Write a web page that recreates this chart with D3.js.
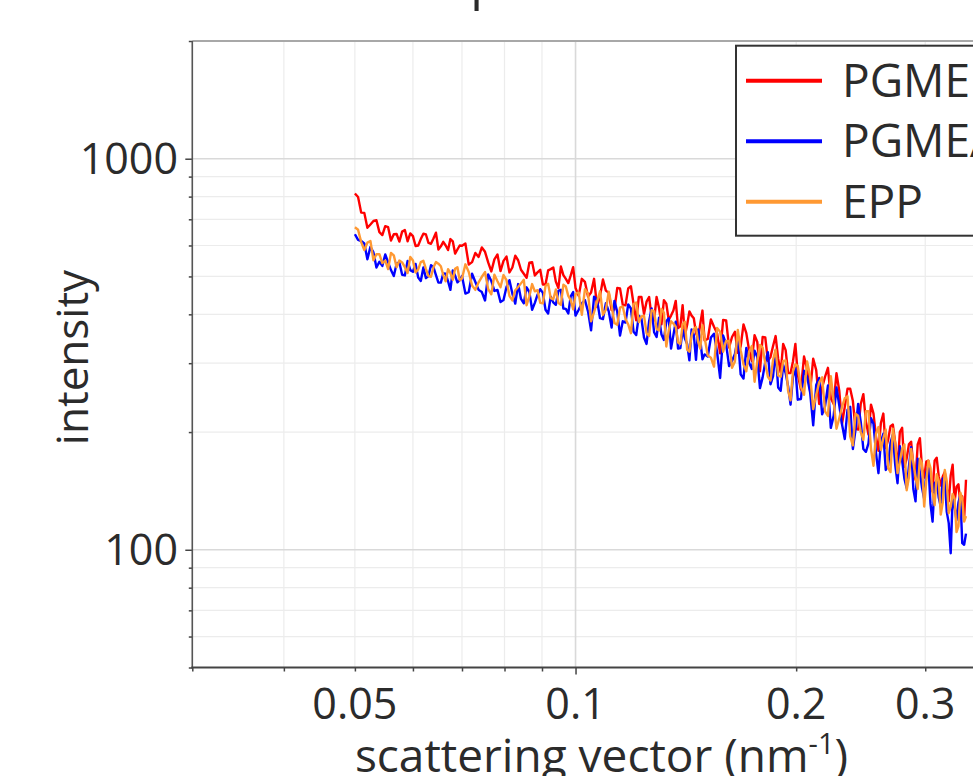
<!DOCTYPE html>
<html>
<head>
<meta charset="utf-8">
<script src="https://cdn.jsdelivr.net/npm/d3@7"></script>
<style>
  body { margin: 0; background: #fff; }
  svg { display: block; font-family: "Open Sans", "Noto Sans", sans-serif; }
</style>
</head>
<body>
<svg id="chart" width="973" height="776"></svg>
<script>
// vecteur de diffusion (nm^-1)
const q = [0.050,0.0505,0.051,0.0515,0.052,0.0525,0.053,0.0535,0.054,0.0545,0.055,0.0555,0.056,0.0565,0.057,0.0575,0.058,0.0585,0.059,0.0595,
  0.060,0.0605,0.061,0.0615,0.062,0.0625,0.063,0.0635,0.064,0.0645,0.065,0.0655,0.066,0.0665,0.067,0.0675,0.068,0.0685,0.069,0.0695,0.070,
  0.07075,0.0715,0.07225,0.073,0.07375,0.0745,0.07525,0.076,0.07675,0.0775,0.07825,0.079,0.07975,0.0805,0.08125,0.082,0.08275,0.0835,0.08425,0.085,
  0.08575,0.0865,0.08725,0.088,0.08875,0.0895,0.09025,0.091,0.09175,0.0925,0.09325,0.094,0.09475,0.0955,0.09625,0.097,0.09775,0.0985,0.09925,0.100,
  0.101,0.102,0.103,0.104,0.105,0.106,0.107,0.108,0.109,0.110,0.111,0.112,0.113,0.114,0.115,0.116,0.117,0.118,0.119,0.120,
  0.121,0.122,0.123,0.124,0.125,0.126,0.127,0.128,0.129,0.130,0.131,0.132,0.133,0.134,0.135,0.136,0.137,0.138,0.139,0.140,
  0.141,0.142,0.143,0.144,0.145,0.146,0.147,0.148,0.149,0.150,
  0.1515,0.153,0.1545,0.156,0.1575,0.159,0.1605,0.162,0.1635,0.165,0.1665,0.168,0.1695,0.171,0.1725,0.174,0.1755,0.177,0.1785,0.180,
  0.1815,0.183,0.1845,0.186,0.1875,0.189,0.1905,0.192,0.1935,0.195,0.1965,0.198,0.1995,0.201,
  0.203,0.205,0.207,0.209,0.211,0.213,0.215,0.217,0.219,0.221,0.223,0.225,0.227,0.229,0.231,0.233,0.235,0.237,0.239,0.241,
  0.243,0.245,0.247,0.249,0.251,0.253,0.255,0.257,0.259,0.261,0.263,0.265,0.267,0.269,0.271,0.273,0.275,0.277,0.279,0.281,
  0.283,0.285,0.287,0.289,0.291,0.293,0.295,0.297,0.299,0.301,0.303,0.305,0.307,0.309,0.311,0.313,0.315,0.317,0.319,0.321,
  0.323,0.325,0.327,0.329,0.331,0.333,0.335,0.337,0.339,0.341];

const pgme = [815,798,728,727,666,679,693,696,649,638,672,668,618,641,642,614,651,657,615,644,634,598,600,623,643,640,609,606,625,647,586,597,613,600,584,623,615,572,586,600,599,
  607,536,544,574,561,593,578,543,515,553,569,516,548,562,512,527,565,550,520,508,496,542,544,503,512,520,477,477,518,522,527,485,467,530,504,493,481,503,528,467,
  446,493,484,444,455,493,418,446,491,460,454,410,412,467,466,423,422,466,472,425,386,443,443,401,431,443,394,386,443,415,377,435,426,387,397,409,433,369,373,422,353,376,407,397,391,358,348,379,409,343,
  346,388,372,358,318,387,386,329,350,361,319,331,377,358,324,304,354,340,286,350,349,304,311,332,352,308,284,336,324,283,283,303,336,281,
  257,312,290,255,308,288,236,260,277,292,244,236,283,255,210,232,258,258,240,204,203,236,250,213,197,235,223,195,179,211,
  223,182,191,207,209,188,160,200,205,163,171,186,189,164,151,186,193,162,153,168,169,145,141,169,172,154,146,154,158,144,
  133,155,165,133,145,147,131,137,120,151];

const pgmea = [641,620,616,607,553,595,576,527,545,532,569,543,519,501,539,543,505,503,548,519,514,538,497,487,527,495,501,534,528,504,482,482,509,508,486,462,518,502,483,489,501,
  452,456,508,484,462,456,434,506,487,459,462,430,435,470,489,452,426,478,438,427,469,456,411,428,449,464,454,411,402,444,429,423,459,462,414,413,402,445,456,397,
  411,427,435,407,364,444,435,391,389,427,407,370,433,406,353,384,381,424,414,361,354,397,390,349,336,384,414,360,350,392,355,344,384,391,327,354,383,327,328,365,347,336,305,366,355,306,366,343,307,316,
  312,349,357,320,275,353,335,295,304,317,349,281,274,328,301,290,323,311,259,276,302,320,265,278,323,260,255,297,283,262,235,277,292,242,
  243,287,277,252,208,264,275,222,233,263,205,220,260,234,209,192,228,232,181,203,236,212,181,178,187,217,210,177,157,189,
  198,160,164,188,197,165,148,184,169,152,144,163,183,143,133,171,158,144,135,157,164,131,118,148,150,136,129,152,153,125,
  117,98,137,129,119,132,138,104,103,110];

const epp = [668,658,612,584,610,616,550,570,570,541,549,522,574,566,528,549,543,528,510,561,549,512,521,544,548,523,501,499,528,544,539,531,504,486,522,510,490,523,528,489,494,
  537,513,474,462,483,499,513,464,450,505,486,469,504,489,446,434,461,470,480,490,422,445,478,458,461,428,427,473,479,440,437,463,428,423,476,471,446,435,412,451,
  455,399,464,452,384,405,431,458,399,411,457,421,380,376,416,419,390,377,358,425,429,382,395,397,358,352,410,407,367,364,413,404,331,363,384,379,372,339,336,377,383,325,321,353,367,371,340,327,375,349,
  314,310,294,369,361,321,342,342,292,303,365,324,298,286,321,332,269,303,334,329,300,277,271,306,325,279,277,304,305,255,241,286,298,295,
  261,249,303,278,229,249,268,276,226,220,278,240,204,217,232,244,247,195,185,223,220,200,191,226,226,181,164,198,206,180,
  193,203,162,158,204,187,157,168,181,186,142,153,181,167,154,143,171,166,129,150,169,162,140,130,156,150,123,132,160,150,
  124,129,139,135,111,115,140,135,118,122];

const seriesNames = ["PGME", "PGMEA", "EPP"];
const seriesColors = ["#ff0000", "#0000ff", "#ff9933"];

const xTickLabels = [0.05, 0.1, 0.2, 0.3];
const xMajor = [0.1];
const xMinor = [0.03, 0.04, 0.05, 0.06, 0.07, 0.08, 0.09, 0.2, 0.3, 0.4];
const yTickLabels = [100, 1000];
const yMajor = [100, 1000];
const yMinor = [50, 60, 70, 80, 90, 200, 300, 400, 500, 600, 700, 800, 900, 2000];

const svg = d3.select("#chart");
const plotLeft = 192.3, plotRight = 1016.8, plotTop = 41, plotBottom = 667.5;

const x = d3.scaleLog().domain([0.03, 0.4]).range([plotLeft, plotRight]);
const y = d3.scaleLog().domain([50, 2000]).range([plotBottom, plotTop]);

svg.append("rect").attr("width", 973).attr("height", 776).attr("fill", "#fff");

// titre (presque entièrement hors cadre)
svg.append("text")
  .attr("x", 318).attr("y", -1)
  .attr("font-size", 50).attr("fill", "#2b2b2b")
  .text("SAXS spectra");

// grille
const grid = svg.append("g");
grid.selectAll(".vmin").data(xMinor).enter().append("line")
  .attr("x1", d => x(d)).attr("x2", d => x(d)).attr("y1", plotTop).attr("y2", plotBottom)
  .attr("stroke", "#ececec").attr("stroke-width", 1.2);
grid.selectAll(".hmin").data(yMinor).enter().append("line")
  .attr("x1", plotLeft).attr("x2", plotRight).attr("y1", d => y(d)).attr("y2", d => y(d))
  .attr("stroke", "#ececec").attr("stroke-width", 1.2);
grid.selectAll(".vmaj").data(xMajor).enter().append("line")
  .attr("x1", d => x(d)).attr("x2", d => x(d)).attr("y1", plotTop).attr("y2", plotBottom)
  .attr("stroke", "#d9d9d9").attr("stroke-width", 1.6);
grid.selectAll(".hmaj").data(yMajor).enter().append("line")
  .attr("x1", plotLeft).attr("x2", plotRight).attr("y1", d => y(d)).attr("y2", d => y(d))
  .attr("stroke", "#d9d9d9").attr("stroke-width", 1.6);

// cadre du haut
svg.append("line").attr("x1", plotLeft).attr("x2", plotRight).attr("y1", plotTop).attr("y2", plotTop)
  .attr("stroke", "#a8a8a8").attr("stroke-width", 2);

// courbes
svg.append("defs").append("clipPath").attr("id", "plot-clip")
  .append("rect").attr("x", plotLeft).attr("y", plotTop)
  .attr("width", plotRight - plotLeft).attr("height", plotBottom - plotTop);

const line = d3.line()
  .x(d => x(d.q))
  .y(d => y(d.v));

const allSeries = [pgme, pgmea, epp];
const plot = svg.append("g").attr("clip-path", "url(#plot-clip)");
allSeries.forEach((vals, i) => {
  plot.append("path")
    .datum(q.map((qq, j) => ({ q: qq, v: vals[j] })))
    .attr("fill", "none")
    .attr("stroke", seriesColors[i])
    .attr("stroke-width", 2.4)
    .attr("stroke-linejoin", "round")
    .attr("d", line);
});

// axes
function styleAxis(g, color) {
  g.select(".domain").remove();
  g.selectAll(".tick line").attr("stroke", color).attr("stroke-width", 1.5);
}
svg.append("g").attr("transform", `translate(0,${plotBottom})`)
  .call(d3.axisBottom(x).tickValues(xMinor).tickSize(4).tickFormat(""))
  .call(g => styleAxis(g, "#444"));
svg.append("g").attr("transform", `translate(0,${plotBottom})`)
  .call(d3.axisBottom(x).tickValues(xMajor).tickSize(7).tickFormat(""))
  .call(g => styleAxis(g, "#444"));
svg.append("g").attr("transform", `translate(${plotLeft},0)`)
  .call(d3.axisLeft(y).tickValues(yMinor).tickSize(3.5).tickFormat(""))
  .call(g => styleAxis(g, "#444"));
svg.append("g").attr("transform", `translate(${plotLeft},0)`)
  .call(d3.axisLeft(y).tickValues(yMajor).tickSize(7).tickFormat(""))
  .call(g => styleAxis(g, "#444"));

svg.append("line").attr("x1", plotLeft).attr("x2", plotLeft).attr("y1", plotTop).attr("y2", plotBottom)
  .attr("stroke", "#555").attr("stroke-width", 1.6);
svg.append("line").attr("x1", plotLeft - 1).attr("x2", plotRight).attr("y1", plotBottom).attr("y2", plotBottom)
  .attr("stroke", "#444").attr("stroke-width", 2);

// étiquettes des graduations
svg.selectAll(".xlab").data(xTickLabels).enter().append("text")
  .attr("x", d => x(d)).attr("y", 719)
  .attr("text-anchor", "middle").attr("font-size", 43).attr("fill", "#2b2b2b")
  .text(d => d);
svg.selectAll(".ylab").data(yTickLabels).enter().append("text")
  .attr("x", 178).attr("y", d => y(d) + 15)
  .attr("text-anchor", "end").attr("font-size", 43).attr("fill", "#2b2b2b")
  .text(d => d);

// titres des axes
svg.append("text")
  .attr("transform", "translate(88,357.5) rotate(-90)")
  .attr("text-anchor", "middle").attr("font-size", 44).attr("fill", "#2b2b2b")
  .text("intensity");

const xTitle = svg.append("text")
  .attr("x", 601.5).attr("y", 772)
  .attr("text-anchor", "middle").attr("font-size", 46).attr("fill", "#2b2b2b");
xTitle.append("tspan").text("scattering vector (nm");
xTitle.append("tspan").attr("font-size", 29).attr("dy", -18).text("-1");
xTitle.append("tspan").attr("dy", 18).text(")");

// légende
const legend = svg.append("g");
legend.append("rect")
  .attr("x", 736).attr("y", 45.7).attr("width", 300).attr("height", 190)
  .attr("fill", "#fff").attr("stroke", "#333").attr("stroke-width", 2);
const rowY = [80.7, 141.2, 201.7];
seriesNames.forEach((name, i) => {
  legend.append("line")
    .attr("x1", 746).attr("x2", 822).attr("y1", rowY[i]).attr("y2", rowY[i])
    .attr("stroke", seriesColors[i]).attr("stroke-width", 4);
  legend.append("text")
    .attr("x", 842).attr("y", rowY[i] + 16)
    .attr("font-size", 46).attr("fill", "#2b2b2b")
    .text(name);
});
</script>
</body>
</html>
